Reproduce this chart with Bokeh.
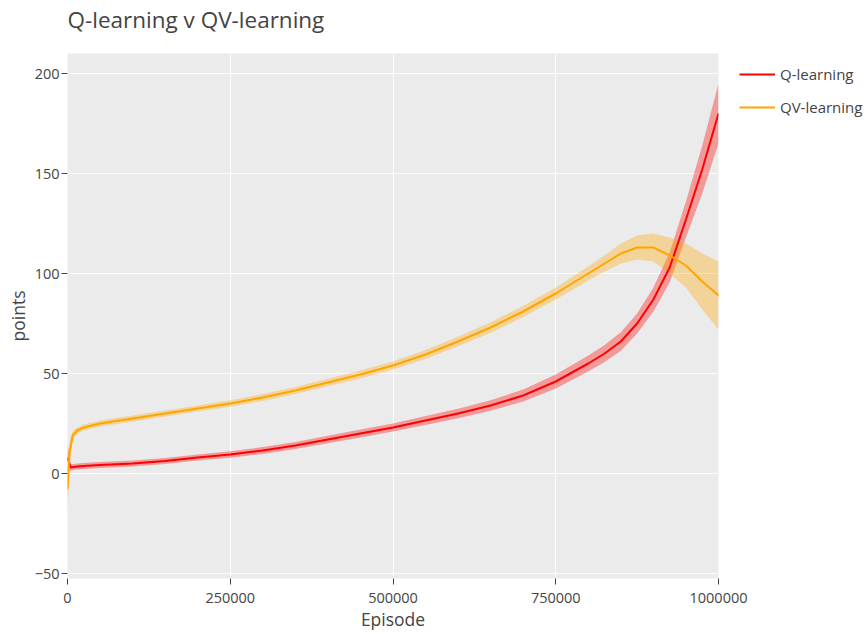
import numpy as np
from bokeh.plotting import figure
from bokeh.models import Legend, LegendItem, FixedTicker, NumeralTickFormatter, Range1d, Title
from bokeh.embed import file_html
from bokeh.resources import INLINE

# ---- data ----
q_episode = [0, 5000, 15000, 25000, 50000, 100000, 150000, 200000, 250000, 300000,
             350000, 400000, 450000, 500000, 550000, 600000, 650000, 700000, 750000,
             800000, 825000, 850000, 875000, 900000, 925000, 950000, 975000, 1000000]
q_mean = [8, 3, 3.5, 3.8, 4.2, 5, 6.3, 8, 9.5, 11.5,
          14, 17, 20, 23, 26.5, 30, 34, 39, 46,
          55, 60, 66, 75, 87, 103, 127, 152, 180]
q_err = [7, 1.5, 1.5, 1.5, 1.5, 1.5, 1.5, 1.5, 1.6, 1.7,
         1.8, 1.9, 2, 2, 2.2, 2.4, 2.6, 3, 3.5,
         4, 4.2, 4.6, 5, 6, 7.5, 9, 12, 15]

qv_episode = [0, 3000, 8000, 15000, 25000, 50000, 100000, 150000, 200000, 250000, 300000,
              350000, 400000, 450000, 500000, 550000, 600000, 650000, 700000, 750000,
              800000, 825000, 850000, 875000, 900000, 925000, 950000, 975000, 1000000]
qv_mean = [-8, 10, 19, 21.5, 23, 25, 27.5, 30, 32.5, 35, 38,
           41.5, 45.5, 49.5, 54, 59.5, 66, 73, 81, 90,
           100, 105, 110, 113, 113, 109, 104, 96, 89]
qv_err = [15, 6, 2, 1.5, 1.5, 1.5, 1.5, 1.5, 1.5, 1.6, 1.7,
          1.8, 1.9, 2, 2, 2.2, 2.4, 2.6, 2.8, 3,
          3.5, 4, 5, 6, 7, 9, 11, 14, 17]

x_ticks = [0, 250000, 500000, 750000, 1000000]
y_ticks = [-50, 0, 50, 100, 150, 200]

TXT = "#444444"
FONT = "Open Sans"

p = figure(frame_width=651, frame_height=525,
           x_range=Range1d(0, 1000000), y_range=Range1d(-52.5, 210),
           output_backend="svg", toolbar_location=None,
           min_border_left=67, min_border_top=53, min_border_right=140, min_border_bottom=50,
           title=None)
p.background_fill_color = "#EBEBEB"
p.border_fill_color = "white"
p.outline_line_color = None

# spacer between frame and title, then the title itself
p.add_layout(Title(text=" ", text_font_size="1px", standoff=16), "above")
p.add_layout(Title(text="Q-learning v QV-learning", text_font=FONT, text_font_size="22.5px",
                   text_font_style="normal", text_color=TXT, standoff=0, align="left"), "above")

qe = np.array(q_episode, dtype=float)
qm = np.array(q_mean, dtype=float)
qs = np.array(q_err, dtype=float)
ve = np.array(qv_episode, dtype=float)
vm = np.array(qv_mean, dtype=float)
vs = np.array(qv_err, dtype=float)

p.varea(x=qe, y1=qm - qs, y2=qm + qs, fill_color="red", fill_alpha=0.35)
p.varea(x=ve, y1=vm - vs, y2=vm + vs, fill_color="orange", fill_alpha=0.35)
rq = p.line(qe, qm, line_color="red", line_width=2)
rv = p.line(ve, vm, line_color="orange", line_width=2)

for ax in (p.xaxis[0], p.yaxis[0]):
    ax.axis_line_color = None
    ax.major_tick_line_color = TXT
    ax.major_tick_out = 6
    ax.major_tick_in = 0
    ax.minor_tick_line_color = None
    ax.major_label_text_font = FONT
    ax.major_label_text_font_size = "14.5px"
    ax.major_label_text_color = TXT
    ax.axis_label_text_font = FONT
    ax.axis_label_text_font_size = "17.5px"
    ax.axis_label_text_font_style = "normal"
    ax.axis_label_text_color = TXT

p.xaxis.ticker = FixedTicker(ticks=x_ticks)
p.yaxis.ticker = FixedTicker(ticks=y_ticks)
p.xaxis.formatter = NumeralTickFormatter(format="0")
p.xaxis.axis_label = "Episode"
p.yaxis.axis_label = "points"
p.xaxis.major_label_standoff = 8
p.yaxis.major_label_standoff = 2
p.xaxis.axis_label_standoff = 1
p.yaxis.axis_label_standoff = 2

p.xgrid.ticker = FixedTicker(ticks=x_ticks)
p.ygrid.ticker = FixedTicker(ticks=y_ticks)
p.grid.grid_line_color = "white"
p.grid.grid_line_width = 1

legend = Legend(items=[LegendItem(label="Q-learning", renderers=[rq]),
                       LegendItem(label="QV-learning", renderers=[rv])],
                location=(21, 461))
legend.margin = 0
legend.padding = 0
legend.border_line_color = None
legend.background_fill_alpha = 0
legend.label_text_font = FONT
legend.label_text_font_size = "15px"
legend.label_text_color = TXT
legend.glyph_width = 36
legend.glyph_height = 14
legend.label_height = 14
legend.spacing = 13
legend.label_standoff = 5
p.add_layout(legend, "right")

open("out.html", "w").write(file_html(p, INLINE))
